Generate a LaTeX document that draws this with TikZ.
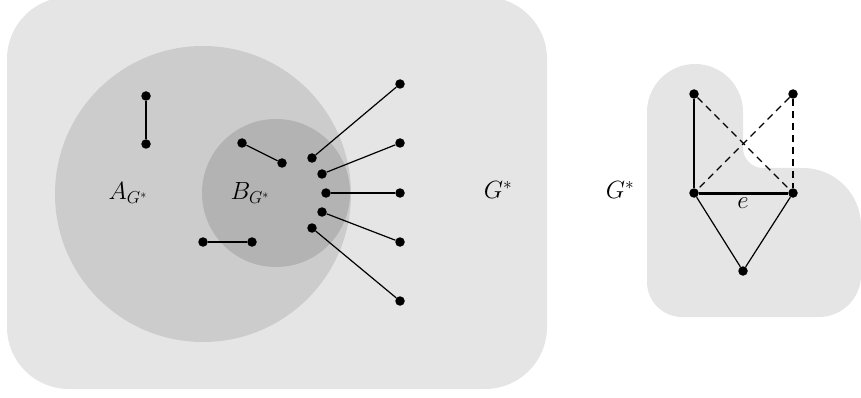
\documentclass[tikz,border=0pt]{standalone}
\usepackage{tikz}
\definecolor{outerg}{HTML}{E5E5E5}
\definecolor{ag}{HTML}{CCCCCC}
\definecolor{bg}{HTML}{B3B3B3}
\tikzset{
  vtx/.style={circle,fill=black,inner sep=0pt,minimum size=9.5pt},
  edg/.style={line width=1.2pt},
  dedg/.style={line width=1.2pt,dash pattern=on 7pt off 5pt},
  thk/.style={line width=3pt},
  lbl/.style={font=\fontsize{24}{28}\selectfont,inner sep=0pt}
}
\begin{document}
\begin{tikzpicture}[x=1pt,y=-1pt]
\useasboundingbox (0,0) rectangle (861,398);
% regions
\fill[outerg,rounded corners=62pt] (7,-3) rectangle (547,389);
\fill[ag] (203,194) circle (148pt);
\fill[bg] (276,193) circle (74pt);
\fill[outerg] (647,282) -- (647,112) arc (180:0:48pt) -- (743,148)
  arc (180:270:20pt) -- (803,168) arc (90:0:58pt) -- (861,275)
  arc (0:-90:42pt) -- (682,317) arc (270:180:35pt) -- cycle;
% labels
\node[lbl] (la) at (128,193) {$A_{G^*}$};
\node[lbl] (lb) at (250,193) {$B_{G^*}$};
\node[lbl] (lg) at (498,190) {$G^*$};
\node[lbl] (lg2) at (620,190) {$G^*$};
% left graph
\node[vtx] (a1) at (146,96) {};
\node[vtx] (a2) at (146,144) {};
\node[vtx] (b1) at (242,143) {};
\node[vtx] (b2) at (282,163) {};
\node[vtx] (c1) at (203,242) {};
\node[vtx] (c2) at (252,242) {};
\node[vtx] (i1) at (312,158) {};
\node[vtx] (i2) at (322,174) {};
\node[vtx] (i3) at (326,193) {};
\node[vtx] (i4) at (322,212) {};
\node[vtx] (i5) at (312,228) {};
\node[vtx] (o1) at (400,84) {};
\node[vtx] (o2) at (400,143) {};
\node[vtx] (o3) at (400,193) {};
\node[vtx] (o4) at (400,242) {};
\node[vtx] (o5) at (400,301) {};
\draw[edg] (a1) -- (a2);
\draw[edg] (b1) -- (b2);
\draw[edg] (c1) -- (c2);
\draw[edg] (i1) -- (o1);
\draw[edg] (i2) -- (o2);
\draw[edg] (i3) -- (o3);
\draw[edg] (i4) -- (o4);
\draw[edg] (i5) -- (o5);
% right graph
\node[vtx] (p1) at (694,94) {};
\node[vtx] (p2) at (793,94) {};
\node[vtx] (p3) at (694,193) {};
\node[vtx] (p4) at (793,193) {};
\node[vtx] (p5) at (743,271) {};
\draw[edg] (p1) -- (p3);
\draw[dedg] (p1) -- (p4);
\draw[dedg] (p2) -- (p3);
\draw[dedg] (p2) -- (p4);
\draw[thk] (p3) -- (p4);
\draw[edg] (p3) -- (p5);
\draw[edg] (p4) -- (p5);
\node[lbl] (le) at (743,203) {$e$};
\end{tikzpicture}
\end{document}
